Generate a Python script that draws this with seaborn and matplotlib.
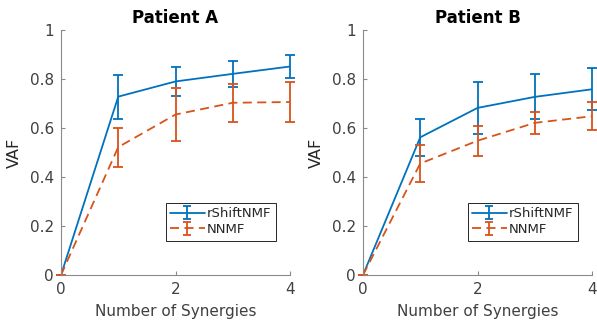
import numpy as np
import pandas as pd
import matplotlib
matplotlib.use("Agg")
import matplotlib.pyplot as plt
import seaborn as sns

synergies = [0, 1, 2, 3, 4]
methods = ["rShiftNMF", "NNMF"]

# Patient A
a_rshift = [0.0, 0.728, 0.790, 0.821, 0.851]
a_rshift_err = [0.0, 0.090, 0.060, 0.054, 0.045]
a_nnmf = [0.0, 0.522, 0.655, 0.703, 0.706]
a_nnmf_err = [0.0, 0.080, 0.107, 0.077, 0.080]

# Patient B
b_rshift = [0.0, 0.562, 0.682, 0.727, 0.758]
b_rshift_err = [0.0, 0.076, 0.107, 0.092, 0.086]
b_nnmf = [0.0, 0.455, 0.548, 0.621, 0.648]
b_nnmf_err = [0.0, 0.077, 0.061, 0.045, 0.057]

titles = ["Patient A", "Patient B"]
xticks = [0, 2, 4]
yticks = [0, 0.2, 0.4, 0.6, 0.8, 1.0]
ytick_labels = ["0", "0.2", "0.4", "0.6", "0.8", "1"]

colors = {"rShiftNMF": "#0072BD", "NNMF": "#D95319"}
styles = {"rShiftNMF": "-", "NNMF": (0, (5, 3))}

sns.set_theme(style="white")
plt.rcParams['font.family'] = ['DejaVu Sans']

fig = plt.figure(figsize=(5.97, 3.26), dpi=100)
axA = fig.add_axes([61/597, 51/326, 229/597, 245/326])
axB = fig.add_axes([363/597, 51/326, 229/597, 245/326])

panels = [
    (axA, a_rshift, a_rshift_err, a_nnmf, a_nnmf_err),
    (axB, b_rshift, b_rshift_err, b_nnmf, b_nnmf_err),
]

axis_gray = "#8a8a8a"
text_col = "#262626"

for (ax, rs, rse, nn, nne), title in zip(panels, titles):
    df = pd.DataFrame({
        "Number of Synergies": synergies * 2,
        "VAF": rs + nn,
        "err": rse + nne,
        "method": ["rShiftNMF"] * len(synergies) + ["NNMF"] * len(synergies),
    })
    handles = []
    for m in methods:
        sub = df[df["method"] == m]
        sns.lineplot(data=sub, x="Number of Synergies", y="VAF", ax=ax,
                     color=colors[m], linestyle=styles[m], linewidth=1.3,
                     legend=False)
        eb = ax.errorbar(sub["Number of Synergies"], sub["VAF"], yerr=sub["err"],
                         fmt="none", ecolor=colors[m], elinewidth=1.3,
                         capsize=3.5, capthick=1.3)
        for art in eb.lines[1] + eb.lines[2]:
            art.set_clip_on(False)
        h = ax.errorbar([np.nan], [np.nan], yerr=[np.nan], color=colors[m],
                        linestyle=styles[m], linewidth=1.3, elinewidth=1.3,
                        capsize=3, capthick=1.3, label=m)
        handles.append(h)
    ax.set_xlim(0, 4)
    ax.set_ylim(0, 1)
    ax.set_xticks(xticks)
    ax.set_xticklabels([str(t) for t in xticks])
    ax.set_yticks(yticks)
    ax.set_yticklabels(ytick_labels)
    ax.set_xlabel("Number of Synergies", fontsize=11, color="#404040", labelpad=5)
    ax.set_ylabel("VAF", fontsize=11.5, color=text_col, labelpad=6)
    ax.set_title(title, fontsize=12, fontweight="bold", color="black", pad=5)
    sns.despine(ax=ax)
    for s in ["left", "bottom"]:
        ax.spines[s].set_color(axis_gray)
        ax.spines[s].set_linewidth(0.8)
    ax.tick_params(direction="in", length=3, width=0.8, color=axis_gray,
                   labelsize=11, labelcolor="#404040", pad=5,
                   left=True, bottom=True)
    leg = ax.legend(handles=handles, labels=methods, loc="lower right",
                    bbox_to_anchor=(0.94, 0.14), fontsize=9.5, frameon=True,
                    fancybox=False, edgecolor="#262626", framealpha=1,
                    handlelength=2.6, handletextpad=0.2, borderpad=0.35,
                    labelspacing=0.2, borderaxespad=0)
    leg.get_frame().set_linewidth(0.7)

fig.savefig("out.png", dpi=100, facecolor="white")
